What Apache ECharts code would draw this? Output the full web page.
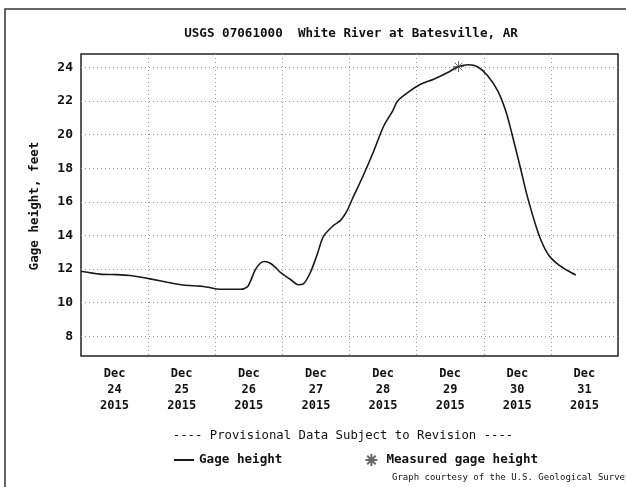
<!DOCTYPE html>
<html>
<head>
<meta charset="utf-8">
<script src="https://cdn.jsdelivr.net/npm/echarts@6/dist/echarts.min.js"></script>
<style>html,body{margin:0;padding:0;background:#fff;}#c{width:626px;height:487px;}</style>
</head>
<body>
<div id="c"></div>
<script>
// Hours since Dec 24 2015 00:00
const hours = [0, 6.8, 12.9, 17.6, 21.1, 24.7, 30.8, 36.5, 42.6, 45.5, 48.7, 52.7, 57, 59.5, 60.5, 62.3, 64.1, 65.6, 67.7, 69.5, 71.3, 74.9, 77.7, 79.5, 82, 84.5, 86.7, 90.3, 92.8, 94.9, 97.1, 101, 104.6, 108.2, 111.4, 113.2, 116.8, 121.4, 126.1, 131.1, 135, 138.6, 141.8, 145.4, 149, 151.9, 153.7, 155.5, 157.3, 159.0, 160.8, 162.6, 164.4, 166.2, 168, 170.9, 174.1, 176.9];
const gageHeight = [11.87, 11.7, 11.67, 11.62, 11.53, 11.42, 11.22, 11.05, 10.99, 10.92, 10.82, 10.8, 10.8, 10.95, 11.25, 11.95, 12.35, 12.45, 12.35, 12.1, 11.8, 11.38, 11.07, 11.12, 11.8, 12.9, 13.95, 14.6, 14.9, 15.4, 16.2, 17.6, 19.0, 20.5, 21.4, 22.0, 22.5, 23.0, 23.3, 23.7, 24.05, 24.16, 24.04, 23.5, 22.6, 21.4, 20.3, 19.1, 17.9, 16.7, 15.6, 14.6, 13.75, 13.1, 12.67, 12.24, 11.9, 11.65];
const measuredHours = [135];
const measuredHeight = [24.05];
const dayLabels = ['Dec\n24\n2015', 'Dec\n25\n2015', 'Dec\n26\n2015', 'Dec\n27\n2015', 'Dec\n28\n2015', 'Dec\n29\n2015', 'Dec\n30\n2015', 'Dec\n31\n2015'];
const labelHours = [12, 36, 60, 84, 108, 132, 156, 180];
const gridHours = [24, 48, 72, 96, 120, 144, 168];
const yTicks = [8, 10, 12, 14, 16, 18, 20, 22, 24];

const FONT = "'DejaVu Sans Mono', monospace";
const chart = echarts.init(document.getElementById('c'), null, {renderer: 'canvas'});
const grid = {left: 81, top: 54, right: 8, bottom: 131};
const dotted = {color: '#999', width: 1, type: [1, 3]};
const starPath = 'path://M0,-10L0,10M-10,0L10,0M-7,-7L7,7M-7,7L7,-7';

chart.setOption({
  animation: false,
  backgroundColor: '#fff',
  title: {
    text: 'USGS 07061000  White River at Batesville, AR',
    left: 346, top: 22, textAlign: 'center',
    textStyle: {fontFamily: FONT, fontSize: 12.6, fontWeight: 'bold', color: '#111'}
  },
  grid: Object.assign({show: true, borderColor: '#222', borderWidth: 1.5, backgroundColor: 'transparent'}, grid),
  legend: {
    left: 173, top: 453, padding: 0, itemWidth: 20, itemHeight: 12, itemGap: 82,
    textStyle: {fontFamily: FONT, fontSize: 12.6, fontWeight: 'bold', color: '#111'},
    data: [
      {name: 'Gage height', itemStyle: {opacity: 0}},
      {name: 'Measured gage height'}
    ]
  },
  xAxis: {
    type: 'value', min: 0, max: 192,
    axisLine: {show: false},
    axisTick: {show: false, customValues: gridHours},
    axisLabel: {
      customValues: labelHours, margin: 10,
      formatter: v => dayLabels[Math.round((v - 12) / 24)],
      fontFamily: FONT, fontSize: 12, fontWeight: 'bold', color: '#111', lineHeight: 16
    },
    splitLine: {show: true, lineStyle: dotted}
  },
  yAxis: {
    type: 'value', min: 6.83, max: 24.8,
    axisLine: {show: false},
    axisTick: {show: false, customValues: yTicks},
    axisLabel: {
      customValues: yTicks, margin: 8,
      fontFamily: FONT, fontSize: 13, fontWeight: 'bold', color: '#111'
    },
    splitLine: {show: true, lineStyle: dotted}
  },
  series: [
    {
      name: 'Gage height', type: 'line', symbol: 'none', smooth: 0.3,
      lineStyle: {color: '#1a1a1a', width: 1.6},
      itemStyle: {color: '#1a1a1a'},
      data: hours.map((h, i) => [h, gageHeight[i]])
    },
    {
      name: 'Measured gage height', type: 'scatter', symbol: starPath, symbolSize: 11,
      itemStyle: {color: 'transparent', borderColor: '#444', borderWidth: 1},
      data: measuredHours.map((h, i) => [h, measuredHeight[i]]),
      z: 5
    }
  ],
  graphic: [
    {type: 'rect', shape: {x: 5, y: 9, width: 700, height: 600}, style: {fill: 'none', stroke: '#333', lineWidth: 1.5}, silent: true},
    {type: 'text', x: 35, y: 206, rotation: Math.PI / 2,
      style: {text: 'Gage height, feet', fontFamily: FONT, fontSize: 12.6, fontWeight: 'bold', fill: '#111', textAlign: 'center', textVerticalAlign: 'middle'}},
    {type: 'text', x: 343, y: 436,
      style: {text: '---- Provisional Data Subject to Revision ----', fontFamily: FONT, fontSize: 12.3, fill: '#111', textAlign: 'center', textVerticalAlign: 'middle'}},
    {type: 'text', x: 392, y: 478,
      style: {text: 'Graph courtesy of the U.S. Geological Survey', fontFamily: FONT, fontSize: 9.0, fill: '#111', textAlign: 'left', textVerticalAlign: 'middle'}}
  ]
});
</script>
</body>
</html>
